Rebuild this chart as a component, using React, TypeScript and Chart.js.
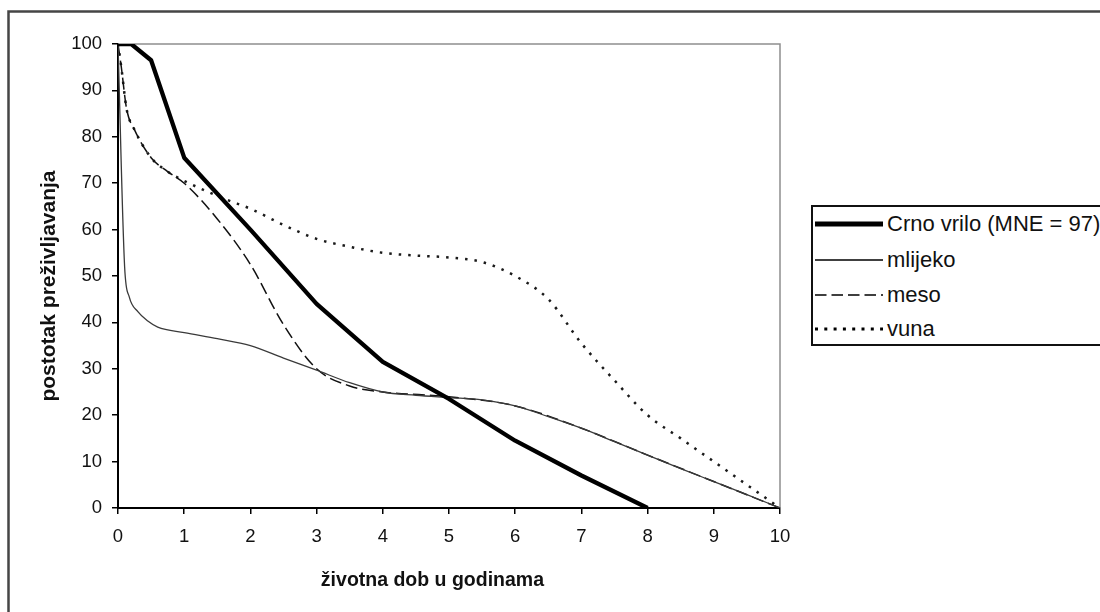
import React, { useEffect, useRef } from 'react';
import { Chart, registerables } from 'chart.js';

Chart.register(...registerables);

// ---- data ----
const seriesNames = ['Crno vrilo (MNE = 97)', 'mlijeko', 'meso', 'vuna'];

const crnoX = [0, 0.2, 0.5, 1, 2, 3, 4, 5, 6, 7, 8];
const crnoY = [100, 100, 96.5, 75.5, 60, 44, 31.5, 23.5, 14.5, 7, 0];

const mlijekoX = [0, 0.1, 0.17, 0.3, 0.45, 0.6, 1, 1.5, 2, 2.5, 3, 3.5, 4, 4.5, 5, 5.5, 6, 6.5, 7, 7.5, 8, 8.5, 9, 9.5, 10];
const mlijekoY = [100, 52, 45.5, 42.3, 40.3, 39, 37.8, 36.5, 35, 32.3, 29.7, 27, 25, 24.3, 23.8, 23.3, 22, 19.7, 17.2, 14.3, 11.4, 8.5, 5.7, 2.9, 0];

const mesoX = [0, 0.05, 0.13, 0.25, 0.5, 0.75, 1, 1.5, 2, 2.5, 3, 3.5, 4, 5, 6, 7, 8, 9, 10];
const mesoY = [100, 95, 86, 81.5, 75.5, 72.5, 70, 62.3, 52.5, 39.5, 30, 26.3, 25, 24, 22, 17.2, 11.4, 5.7, 0];

const vunaX = [0, 0.05, 0.13, 0.25, 0.5, 0.75, 1, 1.3, 1.65, 2, 2.5, 3, 3.5, 4, 4.5, 5, 5.5, 6, 6.5, 7, 7.5, 8, 8.5, 9, 9.5, 10];
const vunaY = [100, 95, 86, 81.5, 75.5, 72.5, 70.5, 68.5, 66.4, 64.5, 61, 58, 56.3, 55, 54.4, 54, 53, 50, 45, 35.5, 27.5, 20, 15, 10, 5, 0];

const xTickValues = [0, 1, 2, 3, 4, 5, 6, 7, 8, 9, 10];
const yTickValues = [0, 10, 20, 30, 40, 50, 60, 70, 80, 90, 100];

const xTitle = 'životna dob u godinama';
const yTitle = 'postotak preživljavanja';

// ---- styles ----
const FONT = '"Liberation Sans", Arial, sans-serif';

const seriesStyles = [
  { color: '#000000', width: 4.3, dash: [] as number[], tension: 0, legendWidth: 5 },
  { color: '#3a3a3a', width: 1.3, dash: [] as number[], tension: 1, legendWidth: 1.5 },
  { color: '#111111', width: 1.5, dash: [12, 5], tension: 1, legendWidth: 1.5 },
  { color: '#1a1a1a', width: 2.5, dash: [2.5, 7], tension: 1, legendWidth: 3 },
];

const legendRowsY = [224, 260, 295, 329];

const toPoints = (xs: number[], ys: number[]) => xs.map((x, i) => ({ x, y: ys[i] }));

const decorPlugin = {
  id: 'decor',
  beforeDraw(chart: any) {
    const { ctx } = chart;
    ctx.save();
    ctx.fillStyle = '#ffffff';
    ctx.fillRect(0, 0, chart.width, chart.height);
    ctx.strokeStyle = '#454545';
    ctx.lineWidth = 2.5;
    ctx.strokeRect(8.5, 11.5, chart.width + 100, chart.height + 100);
    ctx.restore();
  },
  beforeDatasetsDraw(chart: any) {
    const { ctx, chartArea } = chart;
    const { left, top, right, bottom } = chartArea;
    ctx.save();
    ctx.strokeStyle = '#8f8f8f';
    ctx.lineWidth = 1.5;
    ctx.beginPath();
    ctx.moveTo(left, top);
    ctx.lineTo(right, top);
    ctx.lineTo(right, bottom);
    ctx.stroke();
    ctx.restore();
  },
  afterDraw(chart: any) {
    const { ctx, chartArea, scales } = chart;
    ctx.save();
    ctx.fillStyle = '#111111';
    ctx.font = `bold 19.5px ${FONT}`;
    ctx.textAlign = 'center';
    ctx.textBaseline = 'alphabetic';
    ctx.fillText(xTitle, scales.x.getPixelForValue(4.75), chartArea.bottom + 78);
    ctx.translate(55, (chartArea.top + chartArea.bottom) / 2 + 10);
    ctx.rotate(-Math.PI / 2);
    ctx.font = `bold 21px ${FONT}`;
    ctx.fillText(yTitle, 0, 0);
    ctx.restore();
  },
};

export default function App() {
  const canvasRef = useRef<HTMLCanvasElement | null>(null);

  useEffect(() => {
    if (!canvasRef.current) return;
    const seriesX = [crnoX, mlijekoX, mesoX, vunaX];
    const seriesY = [crnoY, mlijekoY, mesoY, vunaY];
    const chart = new Chart(canvasRef.current, {
      type: 'line',
      data: {
        datasets: seriesNames.map((name, i) => ({
          label: name,
          data: toPoints(seriesX[i], seriesY[i]),
          borderColor: seriesStyles[i].color,
          borderWidth: seriesStyles[i].width,
          borderDash: seriesStyles[i].dash,
          borderCapStyle: 'butt',
          borderJoinStyle: 'round',
          cubicInterpolationMode: seriesStyles[i].tension ? 'monotone' : 'default',
          tension: 0,
          pointRadius: 0,
          fill: false,
        })),
      },
      options: {
        responsive: false,
        animation: false,
        devicePixelRatio: 1,
        layout: { padding: { left: 0, top: 44, right: 320, bottom: 0 } },
        plugins: { legend: { display: false }, tooltip: { enabled: false } },
        scales: {
          x: {
            type: 'linear',
            min: 0,
            max: 10,
            afterFit: (s: any) => { s.height = 104; },
            afterBuildTicks: (s: any) => { s.ticks = xTickValues.map((v) => ({ value: v })); },
            grid: { drawOnChartArea: false, drawTicks: true, tickLength: 6, color: '#000', lineWidth: 1.5 },
            border: { display: true, color: '#000', width: 2 },
            ticks: { color: '#111', font: { family: FONT, size: 18.5 }, padding: 12, maxRotation: 0, autoSkip: false },
          },
          y: {
            type: 'linear',
            min: 0,
            max: 100,
            afterFit: (s: any) => { s.width = 118; },
            afterBuildTicks: (s: any) => { s.ticks = yTickValues.map((v) => ({ value: v })); },
            grid: { drawOnChartArea: false, drawTicks: true, tickLength: 6, color: '#000', lineWidth: 1.5 },
            border: { display: true, color: '#000', width: 2 },
            ticks: { color: '#111', font: { family: FONT, size: 18.5 }, padding: 10, autoSkip: false },
          },
        },
      },
      plugins: [decorPlugin],
    } as any);
    return () => chart.destroy();
  }, []);

  return (
    <div style={{ position: 'absolute', left: 0, top: 0, width: 1100, height: 612, overflow: 'hidden', background: '#fff' }}>
      <canvas ref={canvasRef} width={1100} height={612} style={{ position: 'absolute', left: 0, top: 0 }} />
      <div
        style={{
          position: 'absolute',
          left: 811,
          top: 205,
          width: 400,
          height: 141,
          boxSizing: 'border-box',
          border: '2px solid #111',
          background: '#fff',
        }}
      />
      {seriesNames.map((name, i) => (
        <React.Fragment key={name}>
          <svg
            width={70}
            height={12}
            style={{ position: 'absolute', left: 815, top: legendRowsY[i] - 6 }}
          >
            <line
              x1={0}
              y1={6}
              x2={68}
              y2={6}
              stroke="#000"
              strokeWidth={seriesStyles[i].legendWidth}
              strokeDasharray={i === 2 ? '11.5 5' : i === 3 ? '3 6.3' : undefined}
            />
          </svg>
          <span
            style={{
              position: 'absolute',
              left: 887,
              top: legendRowsY[i] - 12,
              font: `22px ${FONT}`,
              lineHeight: '24px',
              color: '#111',
              whiteSpace: 'nowrap',
            }}
          >
            {name}
          </span>
        </React.Fragment>
      ))}
    </div>
  );
}
